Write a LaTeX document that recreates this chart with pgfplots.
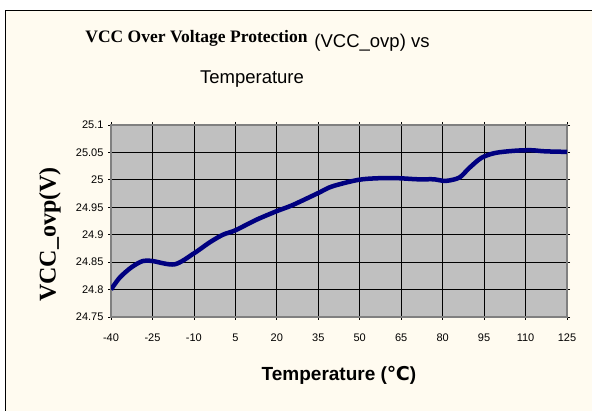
\documentclass[border=0pt]{standalone}
\usepackage{fontspec}
\setmainfont{Liberation Sans}
\newfontfamily\timesfont{Liberation Serif}
\newfontfamily\dejavu{DejaVu Sans}
\usepackage{pgfplots}
\pgfplotsset{compat=1.18}
\definecolor{cream}{RGB}{255,251,240}
\definecolor{plotgray}{RGB}{192,192,192}
\definecolor{navyline}{RGB}{0,0,128}
\definecolor{framegray}{RGB}{128,128,128}
\begin{document}
\begin{tikzpicture}[x=1pt,y=1pt]
\useasboundingbox (0,0) rectangle (592,411);
\clip (0,0) rectangle (592,411);
\fill[cream] (5,-20) rectangle (620,401);
\draw[black, line width=0.9pt] (5,-20) -- (5,401) -- (620,401);
\node[anchor=base, inner sep=0pt] at (196.5,368) {\timesfont\bfseries\fontsize{17.5}{20}\selectfont VCC Over Voltage Protection};
\node[anchor=base, inner sep=0pt] at (372,363) {\fontsize{18.5}{22}\selectfont (VCC\_ovp) vs};
\node[anchor=base, inner sep=0pt] at (252,327) {\fontsize{18.5}{22}\selectfont Temperature};
\begin{axis}[
  at={(111pt,94pt)}, anchor=south west,
  scale only axis, width=456pt, height=192pt,
  xmin=-40, xmax=125, ymin=24.75, ymax=25.1,
  xtick={-40,-25,-10,5,20,35,50,65,80,95,110,125},
  ytick={24.75,24.8,24.85,24.9,24.95,25,25.05,25.1},
  yticklabels={24.75,24.8,24.85,24.9,24.95,25,25.05,25.1},
  /pgf/number format/assume math mode=true,
  grid=major,
  grid style={black, line width=0.7pt},
  axis background/.style={fill=plotgray},
  axis line style={framegray, line width=1.2pt},
  tick align=outside,
  major tick length=3pt,
  tick style={black, line width=0.7pt},
  tick label style={font=\fontsize{11}{13}\selectfont},
  xticklabel style={yshift=-10pt},
  yticklabel style={xshift=-1pt},
  xlabel={\bfseries Temperature ({\dejavu ℃})},
  xlabel style={at={(axis description cs:0.5,-0.305)}, anchor=center, font=\fontsize{19}{22}\selectfont},
  ylabel={\timesfont\bfseries VCC\_ovp(V)},
  ylabel style={at={(axis description cs:-0.134,0.43)}, anchor=center, rotate=0, font=\fontsize{24}{28}\selectfont},
]
\addplot[navyline, line width=4.5pt, smooth, tension=0.5] coordinates {
(-40,24.800) (-36.8,24.822) (-32.5,24.841) (-28.5,24.852) (-25,24.852)
(-17,24.846) (-10,24.866) (-4.3,24.886) (0.5,24.900) (5,24.908)
(12.5,24.927) (20,24.943) (25.7,24.954) (35,24.976) (40,24.988)
(49.5,25.000) (57,25.003) (64,25.003) (71,25.001) (77,25.001)
(81,24.998) (86,25.004) (89.5,25.021) (94,25.040) (99,25.049)
(106,25.053) (112,25.054) (117,25.052) (125,25.051)
};
\end{axis}
\end{tikzpicture}
\end{document}
